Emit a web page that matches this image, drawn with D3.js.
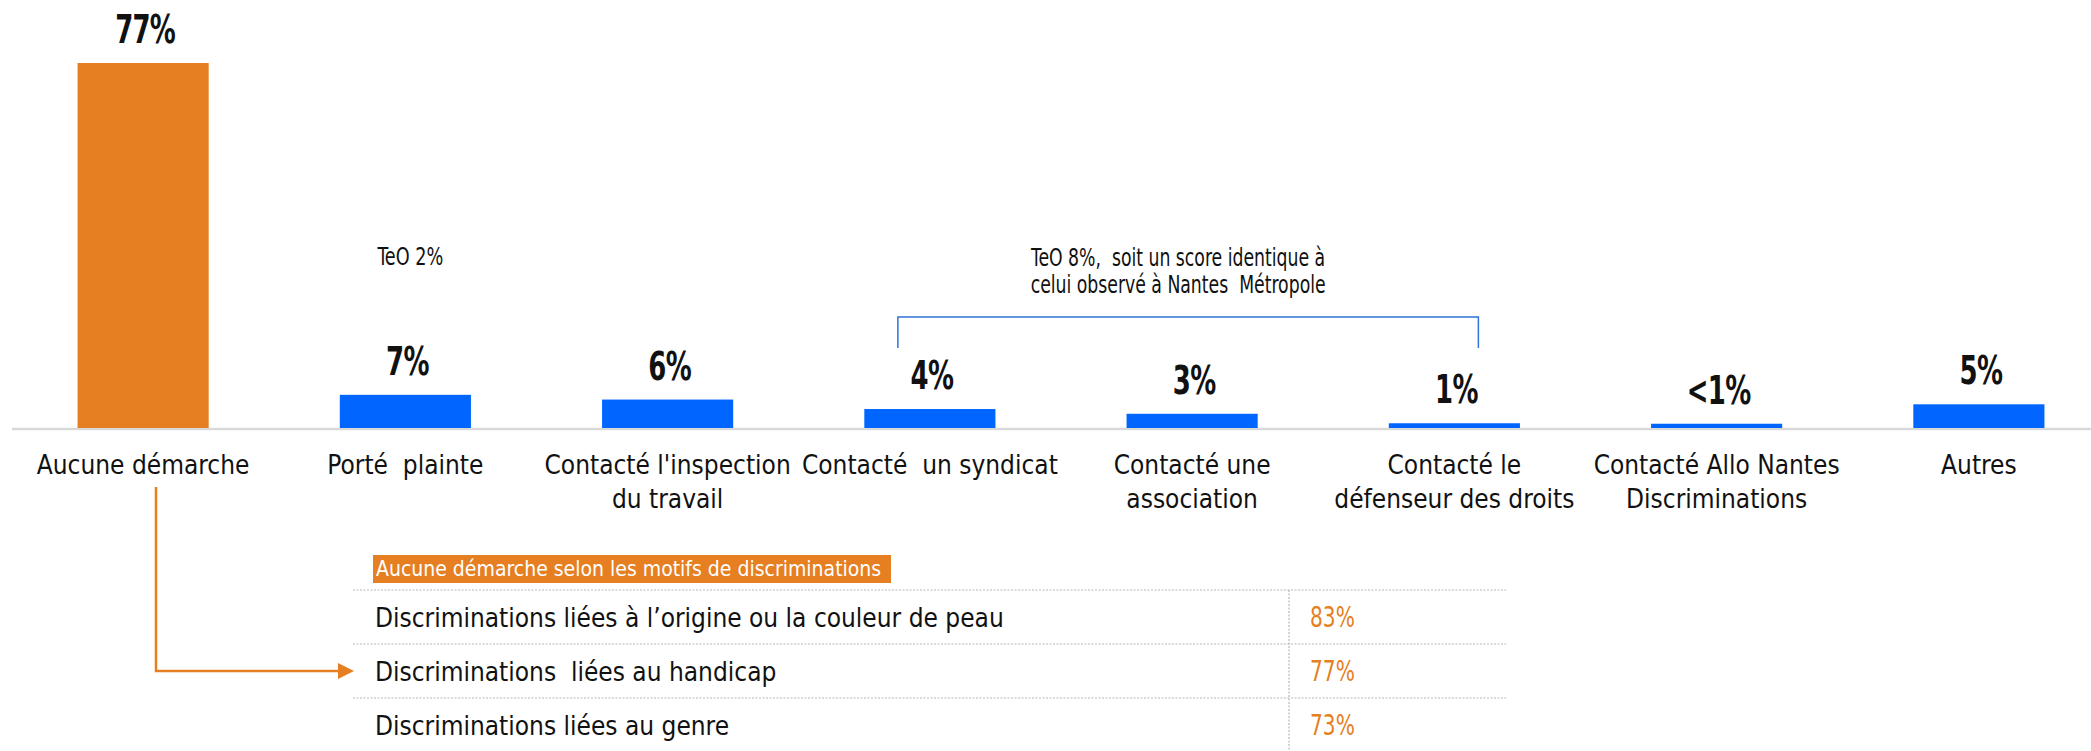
<!DOCTYPE html>
<html>
<head>
<meta charset="utf-8">
<script src="https://cdn.jsdelivr.net/npm/d3@7"></script>
<style>
  body { margin: 0; background: #fff; }
  svg { display: block; font-family: "DejaVu Sans Condensed", "Liberation Sans", Arial, sans-serif; }
  text { white-space: pre; }
</style>
</head>
<body>
<div id="chart"></div>
<script>
// categories (x axis) and their wrapped label lines
const categories = ["Aucune démarche", "Porté plainte", "Contacté l'inspection du travail", "Contacté un syndicat",
  "Contacté une association", "Contacté le défenseur des droits", "Contacté Allo Nantes Discriminations", "Autres"];
const categoryLines = [
  ["Aucune démarche"], ["Porté  plainte"], ["Contacté l'inspection", "du travail"], ["Contacté  un syndicat"],
  ["Contacté une", "association"], ["Contacté le", "défenseur des droits"], ["Contacté Allo Nantes", "Discriminations"], ["Autres"]
];
const values = [77, 7, 6, 4, 3, 1, 0.9, 5];
const valueLabels = ["77%", "7%", "6%", "4%", "3%", "1%", "<1%", "5%"];

// table of "aucune démarche" by motive
const tableTitle = "Aucune démarche selon les motifs de discriminations";
const tableRows = ["Discriminations liées à l’origine ou la couleur de peau", "Discriminations  liées au handicap", "Discriminations liées au genre"];
const tableValues = ["83%", "77%", "73%"];

const notes = [["TeO 2%"], ["TeO 8%,  soit un score identique à", "celui observé à Nantes  Métropole"]];

const width = 2091, height = 751;
const orange = "#e57f22", blue = "#0066ff";

const svg = d3.select("#chart").append("svg")
  .attr("width", width)
  .attr("height", height);

const x = d3.scaleBand()
  .domain(categories)
  .range([12, 2110])
  .paddingInner(0.5)
  .paddingOuter(0.25);

const y = d3.scaleLinear()
  .domain([0, 77])
  .range([428, 63]);

// baseline
svg.append("line")
  .attr("x1", 12).attr("x2", width)
  .attr("y1", y(0) + 1).attr("y2", y(0) + 1)
  .attr("stroke", "#d9d9d9")
  .attr("stroke-width", 2.5);

// bars
svg.selectAll("rect.bar")
  .data(categories)
  .enter()
  .append("rect")
  .attr("class", "bar")
  .attr("x", d => x(d))
  .attr("y", (d, i) => y(values[i]))
  .attr("width", x.bandwidth())
  .attr("height", (d, i) => y(0) - y(values[i]))
  .attr("fill", (d, i) => i === 0 ? orange : blue);

// value labels (bold, condensed)
svg.selectAll("text.val")
  .data(categories)
  .enter()
  .append("text")
  .attr("class", "val")
  .attr("transform", (d, i) => `translate(${x(d) + x.bandwidth() / 2 + 2},${y(values[i]) - 20}) scale(0.74,1)`)
  .attr("text-anchor", "middle")
  .style("font-weight", "bold")
  .style("font-size", "39px")
  .style("letter-spacing", "-1px")
  .style("fill", "#111")
  .text((d, i) => valueLabels[i]);

// category labels
const cat = svg.selectAll("text.cat")
  .data(categories)
  .enter()
  .append("text")
  .attr("class", "cat")
  .attr("text-anchor", "middle")
  .attr("x", d => x(d) + x.bandwidth() / 2)
  .attr("y", 474)
  .style("font-size", "26px")
  .style("fill", "#111");

cat.each(function(d, i) {
  d3.select(this).selectAll("tspan")
    .data(categoryLines[i])
    .enter()
    .append("tspan")
    .attr("x", x(d) + x.bandwidth() / 2)
    .attr("dy", (l, j) => j === 0 ? 0 : 34)
    .text(l => l);
});

// TeO notes
const cx = c => x(c) + x.bandwidth() / 2;
svg.append("text")
  .attr("transform", `translate(${cx(categories[1]) + 5},265) scale(0.82,1)`)
  .attr("text-anchor", "middle")
  .style("font-size", "24px")
  .style("fill", "#111")
  .text(notes[0][0]);

const bx0 = cx(categories[3]) - 32, bx1 = cx(categories[5]) + 24;
notes[1].forEach((l, j) => {
  svg.append("text")
    .attr("transform", `translate(${(bx0 + bx1) / 2 - 10},${266 + j * 27}) scale(0.8,1)`)
    .attr("text-anchor", "middle")
    .style("font-size", "24px")
    .style("fill", "#111")
    .text(l);
});

// bracket
svg.append("path")
  .attr("d", `M${bx0},348V317H${bx1}V348`)
  .attr("fill", "none")
  .attr("stroke", "#2f74d8")
  .attr("stroke-width", 1.5);

// table
const tx0 = 353, tx1 = 1506, tcol = 1289;
const row = d3.scaleBand()
  .domain(tableRows)
  .range([590, 752]);

svg.append("rect")
  .attr("x", 373).attr("y", 555)
  .attr("width", 518).attr("height", 28)
  .attr("fill", orange);

svg.append("text")
  .attr("x", 376).attr("y", 576)
  .style("font-size", "21px")
  .style("fill", "#fff")
  .text(tableTitle);

svg.selectAll("line.rowline")
  .data(tableRows)
  .enter()
  .append("line")
  .attr("class", "rowline")
  .attr("x1", tx0).attr("x2", tx1)
  .attr("y1", d => row(d)).attr("y2", d => row(d))
  .attr("stroke", "#b8b8b8")
  .attr("stroke-width", 1.2)
  .attr("stroke-dasharray", "2,1.5");

svg.append("line")
  .attr("x1", tcol).attr("x2", tcol)
  .attr("y1", row.range()[0]).attr("y2", height)
  .attr("stroke", "#b8b8b8")
  .attr("stroke-width", 1.2)
  .attr("stroke-dasharray", "2,1.5");

svg.selectAll("text.rowlab")
  .data(tableRows)
  .enter()
  .append("text")
  .attr("class", "rowlab")
  .attr("x", 375)
  .attr("y", d => row(d) + 37)
  .style("font-size", "26px")
  .style("fill", "#111")
  .text(d => d);

svg.selectAll("text.rowval")
  .data(tableRows)
  .enter()
  .append("text")
  .attr("class", "rowval")
  .attr("transform", (d, i) => `translate(1310,${row(d) + 37}) scale(0.8,1)`)
  .style("font-size", "28px")
  .style("fill", orange)
  .text((d, i) => tableValues[i]);

// arrow from "Aucune démarche" to the handicap row
const ay = row(tableRows[1]) + row.bandwidth() / 2;
svg.append("path")
  .attr("d", `M156,487V${ay}H340`)
  .attr("fill", "none")
  .attr("stroke", orange)
  .attr("stroke-width", 2.5);
svg.append("path")
  .attr("d", `M338,${ay - 8}L354,${ay}L338,${ay + 8}Z`)
  .attr("fill", orange);
</script>
</body>
</html>
